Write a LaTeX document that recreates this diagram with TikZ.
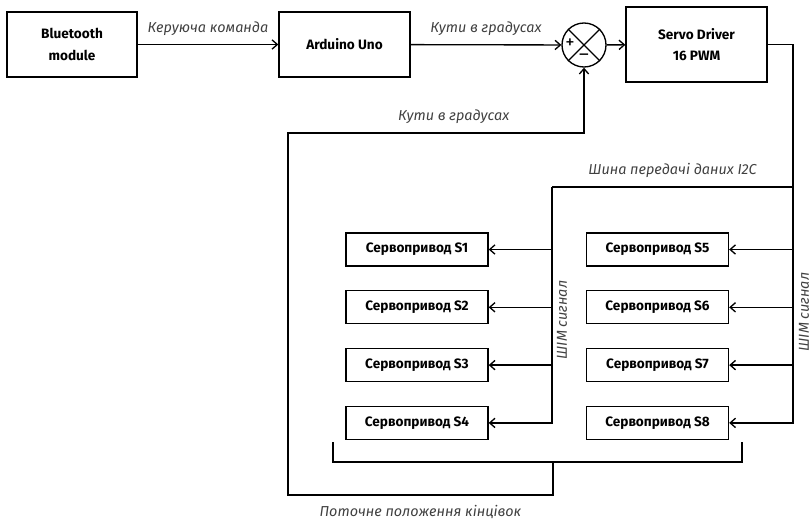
\documentclass[tikz,border=0pt]{standalone}
\usepackage{fontspec}
\setmainfont{Fira Sans}
\usetikzlibrary{arrows.meta,positioning}

\begin{document}
\begin{tikzpicture}[
    x=0.75pt, y=-0.75pt,
    node distance=17.6pt and 1cm,
    block/.style={rectangle, draw, line width=1pt, align=center, font=\bfseries\fontsize{10.2}{16}\selectfont},
    servo/.style={block, minimum width=106.5pt, minimum height=24.75pt},
    arrow/.style={-{Straight Barb[length=4pt,width=7pt]}, line width=1pt},
    wire/.style={line width=1pt},
    lbl/.style={font=\itshape\fontsize{10.8}{12}\selectfont, text=black!75}
]
\useasboundingbox (0,0) rectangle (812,521);

% Top chain
\node[block, minimum width=97.5pt, minimum height=48.75pt] (bt) at (72,44.5) {Bluetooth\\module};
\node[block, minimum width=98.25pt, minimum height=48.75pt] (arduino) at (344.5,44.5) {Arduino Uno};
\node[circle, draw, line width=1pt, minimum size=33pt, inner sep=0pt] (sum) at (584,45) {};
\node[block, minimum width=105.75pt, minimum height=56.25pt] (driver) at (696.5,44.5) {Servo Driver\\16 PWM};

% Summing junction
\draw[wire] (sum.north west) -- (sum.south east);
\draw[wire] (sum.north east) -- (sum.south west);
\node[font=\fontsize{14}{14}\selectfont, inner sep=0pt] (plus) at (570,44) {+};
\node[font=\fontsize{14}{14}\selectfont, inner sep=0pt] (minus) at (584,57) {--};

% Servos, left column
\node[servo] (s1) at (417,249.5) {Сервопривод S1};
\node[servo, below=of s1] (s2) {Сервопривод S2};
\node[servo, below=of s2] (s3) {Сервопривод S3};
\node[servo, below=of s3] (s4) {Сервопривод S4};

% Servos, right column
\node[servo] (s5) at (657.5,249.5) {Сервопривод S5};
\node[servo, below=of s5] (s6) {Сервопривод S6};
\node[servo, below=of s6] (s7) {Сервопривод S7};
\node[servo, below=of s7] (s8) {Сервопривод S8};

% Forward path
\draw[arrow] (bt) -- node[above=3pt, lbl] {Керуюча команда} (arduino);
\draw[arrow] (arduino) -- node[above=3pt, lbl] {Кути в градусах} (sum);
\draw[arrow] (sum) -- (driver);

% I2C bus
\coordinate (rbus) at (793,187);
\coordinate (lbus) at (552,187);
\draw[wire] (driver.east) -| (rbus) -- node[above=3pt, lbl] {Шина передачі даних I2C} (lbus);
\foreach \i in {1,...,4} \draw[arrow] (lbus) |- (s\i);
\foreach \i in {5,...,8} \draw[arrow] (rbus) |- (s\i);
\node[lbl, rotate=90] (pwml) at (562,320) {ШІМ сигнал};
\node[lbl, rotate=90] (pwmr) at (804,312) {ШІМ сигнал};

% Feedback
\coordinate (brl) at (333,442);
\coordinate (brr) at (742,442);
\coordinate (fb) at (553,462);
\coordinate (fbl) at (288,495);
\coordinate (fbt) at (288,133);
\draw[wire] (brl) |- (fb) -| (brr);
\draw[arrow] (fb) |- node[pos=0.75, below=4pt, lbl] {Поточне положення кінцівок} (fbl)
    -- (fbt) -| node[pos=0.28, above=3pt, lbl] {Кути в градусах} (sum.south);
\end{tikzpicture}
\end{document}
